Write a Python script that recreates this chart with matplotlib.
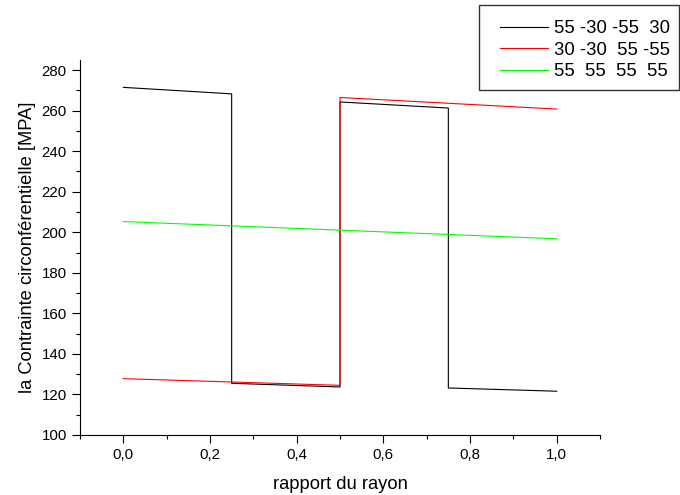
import matplotlib
matplotlib.use("Agg")
import matplotlib.pyplot as plt
from matplotlib.ticker import MultipleLocator, FuncFormatter
from matplotlib.patches import Rectangle

plt.rcParams['font.family'] = ['Liberation Sans', 'DejaVu Sans']

# Data
x_black = [0.0, 0.25, 0.25, 0.5, 0.5, 0.75, 0.75, 1.0]
y_black = [271.5, 268.3, 125.5, 123.7, 264.3, 261.3, 123.2, 121.6]
x_red = [0.0, 0.5, 0.5, 1.0]
y_red = [127.8, 124.5, 266.5, 260.8]
x_green = [0.0, 1.0]
y_green = [205.3, 196.8]
labels = ["55 -30 -55  30", "30 -30  55 -55", "55  55  55  55"]

W, H = 680, 495
fig = plt.figure(figsize=(6.8, 4.95), dpi=100)
ax = fig.add_axes([80/W, 60/H, 520/W, 375/H])

l1, = ax.plot(x_black, y_black, color='black', lw=0.8)
l2, = ax.plot(x_red, y_red, color='#ff0000', lw=0.8)
l3, = ax.plot(x_green, y_green, color='#00ff00', lw=0.8)

ax.set_xlim(-0.1, 1.1)
ax.set_ylim(100, 285)
ax.xaxis.set_major_locator(MultipleLocator(0.2))
ax.xaxis.set_minor_locator(MultipleLocator(0.1))
ax.yaxis.set_major_locator(MultipleLocator(20))
ax.yaxis.set_minor_locator(MultipleLocator(10))
ax.xaxis.set_major_formatter(FuncFormatter(lambda v, p: f"{v:.1f}".replace('.', ',')))
ax.tick_params(which='major', length=6, width=0.8, labelsize=10.8, direction='out')
ax.tick_params(which='minor', length=3, width=0.8, direction='out')
ax.spines['top'].set_visible(False)
ax.spines['right'].set_visible(False)

ax.set_xlabel("rapport du rayon", fontsize=13.2, labelpad=10)
ax.set_ylabel("la Contrainte circonférentielle [MPA]", fontsize=13.2, labelpad=4)

# Legend frame drawn separately for exact placement
frame = Rectangle((479/W, 1 - 90/H), 200/W, 85/H, transform=fig.transFigure,
                  facecolor='white', edgecolor='#333333', lw=1.0, zorder=1)
fig.patches.append(frame)
leg = fig.legend([l1, l2, l3], labels, loc='upper left',
                 bbox_to_anchor=(500/W, 1 - 20/H), fontsize=13.3,
                 frameon=False, borderaxespad=0, borderpad=0,
                 handlelength=2.6, handletextpad=0.3, labelspacing=0.25)
leg.set_zorder(2)

fig.savefig("out.png", dpi=100)
